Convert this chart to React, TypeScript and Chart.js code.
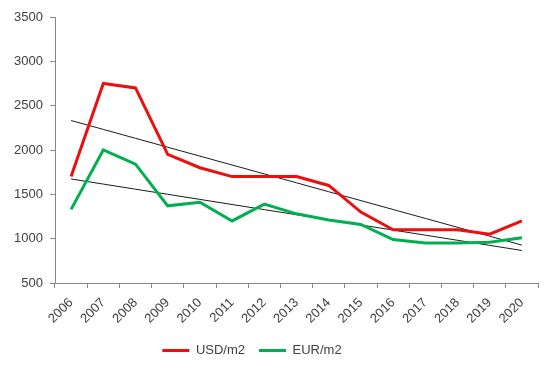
import React, { useEffect, useRef } from "react";
import { Chart, registerables } from "chart.js";

Chart.register(...registerables);

const years = ["2006","2007","2008","2009","2010","2011","2012","2013","2014","2015","2016","2017","2018","2019","2020"];
const usd = [1700, 2750, 2700, 1950, 1800, 1700, 1700, 1700, 1600, 1300, 1100, 1100, 1100, 1050, 1200];
const eur = [1330, 2000, 1840, 1370, 1410, 1200, 1390, 1280, 1210, 1160, 990, 950, 950, 960, 1010];
const yTicks = [500, 1000, 1500, 2000, 2500, 3000, 3500];

function trend(values: number[]): number[] {
  const n = values.length;
  const xs = values.map((_, i) => i);
  const mx = xs.reduce((a, b) => a + b, 0) / n;
  const my = values.reduce((a, b) => a + b, 0) / n;
  let num = 0, den = 0;
  for (let i = 0; i < n; i++) { num += (xs[i] - mx) * (values[i] - my); den += (xs[i] - mx) ** 2; }
  const slope = num / den;
  return xs.map((x) => my + slope * (x - mx));
}

const legendShift = {
  id: "legendShift",
  afterLayout(chart: any) {
    const lg = chart.legend;
    if (!lg) return;
    lg.left -= 17;
    lg.right -= 17;
    lg.top -= 3;
    lg.bottom -= 3;
  },
};

export default function App() {
  const ref = useRef<HTMLCanvasElement>(null);
  useEffect(() => {
    document.body.style.margin = "0";
    const font = { family: "'Liberation Sans', Arial, sans-serif", size: 13 };
    const chart = new Chart(ref.current!, {
      type: "line",
      plugins: [legendShift],
      data: {
        labels: years,
        datasets: [
          { label: "USD/m2", data: usd, borderColor: "#ea1010", backgroundColor: "#ea1010", borderWidth: 3, pointRadius: 0, tension: 0 },
          { label: "EUR/m2", data: eur, borderColor: "#00b050", backgroundColor: "#00b050", borderWidth: 3, pointRadius: 0, tension: 0 },
          { label: "trendUSD", data: trend(usd), borderColor: "#1a1a1a", borderWidth: 1, pointRadius: 0 },
          { label: "trendEUR", data: trend(eur), borderColor: "#1a1a1a", borderWidth: 1, pointRadius: 0 },
        ],
      },
      options: {
        responsive: false,
        animation: false,
        layout: { padding: { top: 17, right: 12, left: 0, bottom: 0 } },
        plugins: {
          tooltip: { enabled: false },
          legend: {
            position: "bottom",
            labels: {
              font,
              color: "#404040",
              usePointStyle: true,
              pointStyle: "line",
              pointStyleWidth: 27,
              padding: 14,
              filter: (item) => !String(item.text).startsWith("trend"),
            },
          },
        },
        scales: {
          x: {
            offset: true,
            grid: { display: true, offset: true, drawOnChartArea: false, drawTicks: true, tickLength: 5, color: "#868686" },
            border: { color: "#868686" },
            ticks: { font, color: "#404040", maxRotation: 45, minRotation: 45, autoSkip: false, padding: 7 },
            afterFit: (s: any) => { s.height = 50; },
          },
          y: {
            min: 500,
            max: 3500,
            afterBuildTicks: (s: any) => { s.ticks = yTicks.map((v) => ({ value: v })); },
            grid: { display: true, drawOnChartArea: false, drawTicks: true, tickLength: 5, color: "#868686" },
            border: { color: "#868686" },
            ticks: { font, color: "#404040", padding: 7, callback: (v: any) => String(v) },
            afterFit: (s: any) => { s.width = 55; },
          },
        },
      },
    });
    return () => chart.destroy();
  }, []);
  return <canvas ref={ref} width={550} height={370} style={{ display: "block" }} />;
}
